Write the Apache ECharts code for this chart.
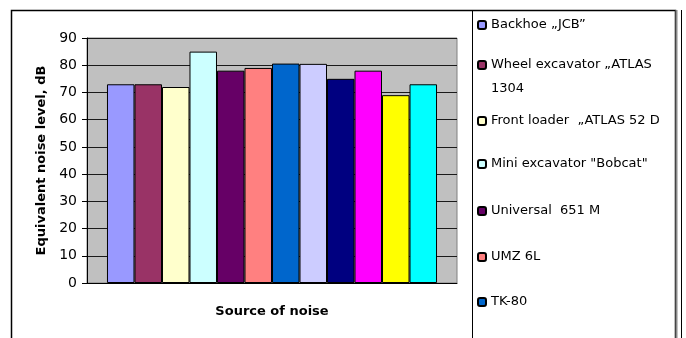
<!DOCTYPE html>
<html>
<head>
<meta charset="utf-8">
<script src="https://cdn.jsdelivr.net/npm/echarts@6/dist/echarts.min.js"></script>
<style>
html,body{margin:0;padding:0;background:#fff;}
#chart{width:686px;height:338px;}
</style>
</head>
<body>
<div id="chart"></div>
<script>
// ---- data ----
var categories = ['Source of noise'];
var seriesNames = [
  'Backhoe \u201EJCB\u201D',
  'Wheel excavator \u201EATLAS 1304',
  'Front loader  \u201EATLAS 52 D\u201D',
  'Mini excavator "Bobcat"',
  'Universal  651 M',
  'UMZ 6L',
  'TK-80',
  'Source 8',
  'Source 9',
  'Source 10',
  'Source 11',
  'Source 12'
];
var seriesValues = [73, 73, 72, 85, 78, 79, 80.6, 80.5, 75, 78, 69, 73];
var yTicks = [0, 10, 20, 30, 40, 50, 60, 70, 80, 90];

// ---- styles / layout ----
var colors = ['#9999FF', '#993366', '#FFFFCC', '#CCFFFF', '#660066', '#FF8080',
              '#0066CC', '#CCCCFF', '#000080', '#FF00FF', '#FFFF00', '#00FFFF'];
var legendCenters = [24, 65, 120, 163, 210, 256, 301, 346, 391, 436, 481, 526];
var FONT = '"DejaVu Sans", sans-serif';

var series = seriesNames.map(function (n, i) {
  return {
    name: n,
    type: 'bar',
    data: [seriesValues[i]],
    barGap: '0%',
    barCategoryGap: '10.8%',
    itemStyle: { color: colors[i], borderColor: '#000', borderWidth: 1 },
    emphasis: { disabled: true }
  };
});

var legends = seriesNames.map(function (n, i) {
  var ts = { fontFamily: FONT, fontSize: 13, color: '#000', lineHeight: 14 };
  var top = legendCenters[i] - 6;
  var fmt = null;
  if (i === 1) {
    ts.width = 180; ts.overflow = 'break'; ts.lineHeight = 24;
    fmt = function (name) { return '\n' + name; };
    top = legendCenters[i] - 36;
  } else {
    ts.width = 170; ts.overflow = 'truncate'; ts.ellipsis = '';
  }
  var lg = {
    data: [n],
    orient: 'vertical',
    left: 477,
    top: top,
    padding: 0,
    itemWidth: 8,
    itemHeight: 8,
    itemGap: 0,
    selectedMode: false,
    textStyle: ts
  };
  if (fmt) lg.formatter = fmt;
  return lg;
});

var chart = echarts.init(document.getElementById('chart'), null, { renderer: 'canvas' });
chart.setOption({
  animation: false,
  backgroundColor: '#fff',
  textStyle: { fontFamily: FONT },
  grid: {
    left: 87, right: 229, top: 38, bottom: 55,
    show: true, backgroundColor: '#C0C0C0', borderColor: '#808080', borderWidth: 1,
    containLabel: false
  },
  legend: legends,
  xAxis: {
    type: 'category',
    data: categories,
    boundaryGap: true,
    name: 'Source of noise',
    nameLocation: 'middle',
    nameGap: 22,
    nameTextStyle: { fontFamily: FONT, fontSize: 13, fontWeight: 'bold', color: '#000' },
    axisLine: { show: true, lineStyle: { color: '#000', width: 1 } },
    axisTick: { show: false },
    axisLabel: { show: false },
    splitLine: { show: false }
  },
  yAxis: {
    type: 'value',
    min: 0, max: 90, interval: 10,
    name: 'Equivalent noise level, dB',
    nameLocation: 'middle',
    nameGap: 39,
    nameRotate: 90,
    nameTextStyle: { fontFamily: FONT, fontSize: 13, fontWeight: 'bold', color: '#000' },
    axisLine: { show: true, lineStyle: { color: '#000', width: 1 } },
    axisTick: { show: true, inside: false, length: 5, lineStyle: { color: '#000' } },
    axisLabel: {
      margin: 10, fontFamily: FONT, fontSize: 14, color: '#000',
      formatter: function (v) { return yTicks.indexOf(v) >= 0 ? String(v) : ''; }
    },
    splitLine: { show: true, lineStyle: { color: '#1a1a1a', width: 1 } }
  },
  series: series,
  graphic: [
    { type: 'rect', silent: true, z: 100,
      shape: { x: 11.5, y: 10.5, width: 664, height: 400 },
      style: { fill: null, stroke: '#000', lineWidth: 1.5 } },
    { type: 'line', silent: true, z: 100,
      shape: { x1: 472.5, y1: 10, x2: 472.5, y2: 338 },
      style: { stroke: '#000', lineWidth: 1 } },
    { type: 'line', silent: true, z: 100,
      shape: { x1: 676.5, y1: 10, x2: 676.5, y2: 338 },
      style: { stroke: '#8a8a8a', lineWidth: 2 } },
    { type: 'line', silent: true, z: 100,
      shape: { x1: 681.5, y1: 10, x2: 681.5, y2: 338 },
      style: { stroke: '#000', lineWidth: 1 } }
  ]
});
</script>
</body>
</html>
